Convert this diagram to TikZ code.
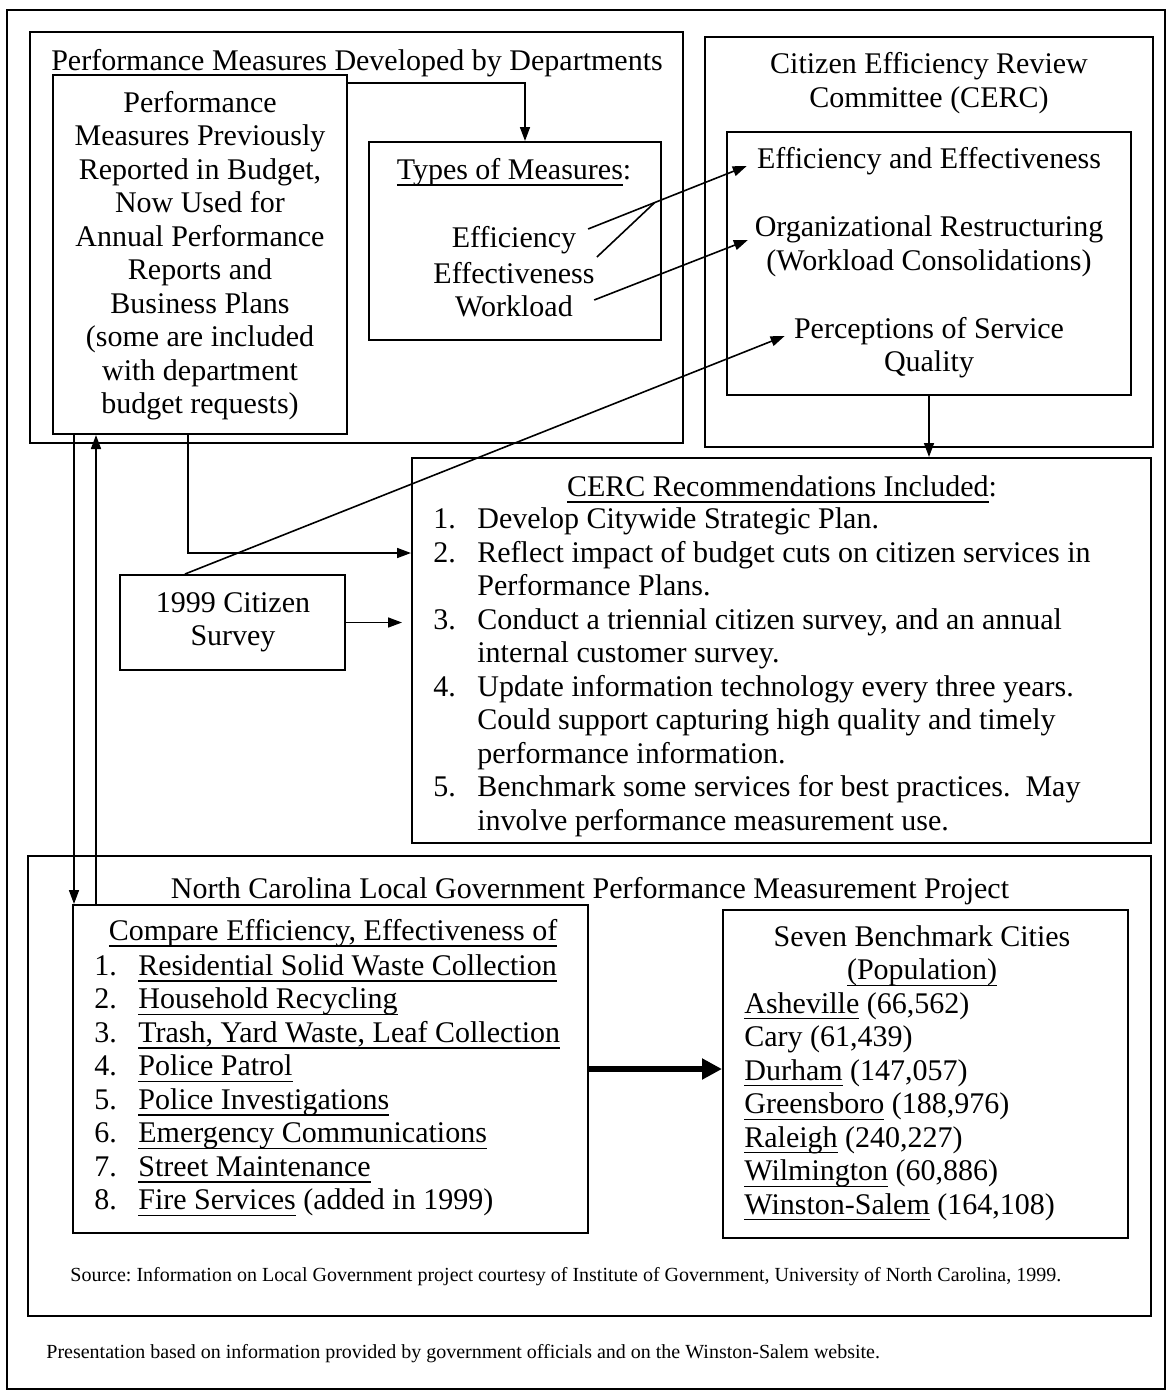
\documentclass[tikz,border=0pt]{standalone}
\usepackage{fontspec}
\setmainfont{Liberation Serif}
\usetikzlibrary{arrows.meta}
\newsavebox{\undlbox}
\newcommand{\undl}[1]{\sbox{\undlbox}{#1}\rlap{\rule[-3.1pt]{\wd\undlbox}{0.7pt}}\usebox{\undlbox}}
\newcommand{\numcol}[1]{\makebox[22pt][l]{#1}}
\frenchspacing

\begin{document}
\begin{tikzpicture}[x=0.5pt,y=0.5pt,yscale=-1,xscale=1,
    box/.style={draw, line width=1pt, inner sep=0pt},
    txt/.style={inner sep=0pt, align=center, font=\fontsize{15}{16.75}\selectfont},
    lst/.style={txt, anchor=west, align=left},
    note/.style={inner sep=0pt, anchor=west, font=\fontsize{10}{12}\selectfont},
    conn/.style={line width=0.8pt, -{Triangle[length=7pt,width=5pt]}}]
    \useasboundingbox (0,0) rectangle (1169,1392);

    %Shape: Rectangle (outer frame)
    \draw [line width=1pt] (7,10) rectangle (1165,1389);
    %Shape: Rectangle (departments)
    \draw [line width=1pt] (30,32) rectangle (683,443);
    %Shape: Rectangle (CERC)
    \draw [line width=1pt] (705,37) rectangle (1153,447);
    %Shape: Rectangle (NC project)
    \draw [line width=1pt] (28,856) rectangle (1151,1316);

    %Boxes
    \node [box, minimum width=147pt, minimum height=179.5pt] (prev) at (200,254.5) {};
    \node [box, minimum width=146pt, minimum height=99pt] (types) at (515,241) {};
    \node [box, minimum width=202pt, minimum height=131.5pt] (cercin) at (929,263.5) {};
    \node [box, minimum width=369.5pt, minimum height=192.5pt] (recs) at (781.5,650.5) {};
    \node [box, minimum width=112.5pt, minimum height=47.5pt] (survey) at (232.5,622.5) {};
    \node [box, minimum width=257.5pt, minimum height=164pt] (cmp) at (330.5,1069) {};
    \node [box, minimum width=202.5pt, minimum height=164pt] (cities) at (925.5,1074) {};

    % Text Node
    \node [txt] (depttitle) at (357,63) {Performance Measures Developed by Departments};
    % Text Node
    \node [txt] (prevtxt) at (200,255.5) {Performance\\ Measures Previously\\ Reported in Budget,\\ Now Used for\\ Annual Performance\\ Reports and\\ Business Plans\\ (some are included\\ with department\\ budget requests)};
    % Text Node
    \node [txt] (typestitle) at (514,172) {\undl{Types of Measures}:};
    \node [txt] (effic) at (514,240) {Efficiency};
    \node [txt] (effect) at (514,273) {Effectiveness};
    \node [txt] (workl) at (514,306) {Workload};
    % Text Node
    \node [txt] (cerctitle) at (929,83) {Citizen Efficiency Review\\ Committee (CERC)};
    \node [txt] (ee) at (929,161) {Efficiency and Effectiveness};
    \node [txt] (orgr) at (929,246.5) {Organizational Restructuring\\ (Workload Consolidations)};
    \node [txt] (perc) at (929,347.5) {Perceptions of Service\\ Quality};
    % Text Node
    \node [txt] (survtxt) at (233,622.5) {1999 Citizen\\ Survey};
    % Text Node
    \node [txt] (rectitle) at (782,489) {\undl{CERC Recommendations Included}:};
    \node [lst] (reclist) at (433,672.5) {\numcol{1.}Develop Citywide Strategic Plan.\\
        \numcol{2.}Reflect impact of budget cuts on citizen services in\\
        \hspace*{22pt}Performance Plans.\\
        \numcol{3.}Conduct a triennial citizen survey, and an annual\\
        \hspace*{22pt}internal customer survey.\\
        \numcol{4.}Update information technology every three years.\\
        \hspace*{22pt}Could support capturing high quality and timely\\
        \hspace*{22pt}performance information.\\
        \numcol{5.}Benchmark some services for best practices.\ \ May\\
        \hspace*{22pt}involve performance measurement use.};
    % Text Node
    \node [txt] (nctitle) at (590,891) {North Carolina Local Government Performance Measurement Project};
    \node [txt] (cmptitle) at (333,933) {\undl{Compare Efficiency, Effectiveness of}};
    \node [lst] (cmplist) at (94,1085.5) {\numcol{1.}\undl{Residential Solid Waste Collection}\\
        \numcol{2.}\undl{Household Recycling}\\
        \numcol{3.}\undl{Trash, Yard Waste, Leaf Collection}\\
        \numcol{4.}\undl{Police Patrol}\\
        \numcol{5.}\undl{Police Investigations}\\
        \numcol{6.}\undl{Emergency Communications}\\
        \numcol{7.}\undl{Street Maintenance}\\
        \numcol{8.}\undl{Fire Services} (added in 1999)};
    \node [txt] (citytitle) at (922,956) {Seven Benchmark Cities\\ \undl{(Population)}};
    \node [lst] (citylist) at (744,1106.5) {\undl{Asheville} (66,562)\\
        Cary (61,439)\\
        \undl{Durham} (147,057)\\
        \undl{Greensboro} (188,976)\\
        \undl{Raleigh} (240,227)\\
        \undl{Wilmington} (60,886)\\
        \undl{Winston-Salem} (164,108)};
    % Text Node
    \node [note] (source) at (70,1277) {Source: Information on Local Government project courtesy of Institute of Government, University of North Carolina, 1999.};
    \node [note] (present) at (46,1354) {Presentation based on information provided by government officials and on the Winston-Salem website.};

    %Connectors
    \draw [conn] ([yshift=4.5pt]prev.north east) -| ([xshift=5pt]types.north);
    \draw [conn] ([xshift=5.75pt,yshift=-5.5pt]effic.east) -- coordinate[pos=0.42] (effjoin) ([xshift=-5pt,yshift=2.5pt]ee.west);
    \draw [line width=0.8pt] ([xshift=1pt,yshift=-8pt]effect.east) -- (effjoin);
    \draw [conn] ([xshift=10.5pt,yshift=-3pt]workl.east) -- ([xshift=-3.25pt,yshift=-3.25pt]orgr.west);
    \draw [conn] ([xshift=-23.75pt]survey.north) -- ([xshift=-4.5pt,yshift=-5.75pt]perc.west);
    \draw [conn] (cercin.south) -- (cercin.south |- recs.north);
    \draw [conn] ([xshift=-6pt]prev.south) |- ([yshift=-48.75pt]recs.west);
    \draw [conn] (survey.east) -- ([xshift=-4.5pt]recs.west |- survey.east);
    \draw [conn] ([xshift=11pt]prev.south west) -- ([xshift=11pt]prev.south west |- cmp.north);
    \draw [conn] ([xshift=12pt]cmp.north west) -- ([xshift=12pt]cmp.north west |- prev.south);
    \draw [line width=3pt, -{Triangle[length=10pt,width=10pt]}] (cmp.east) -- (cmp.east -| cities.west);

\end{tikzpicture}
\end{document}
